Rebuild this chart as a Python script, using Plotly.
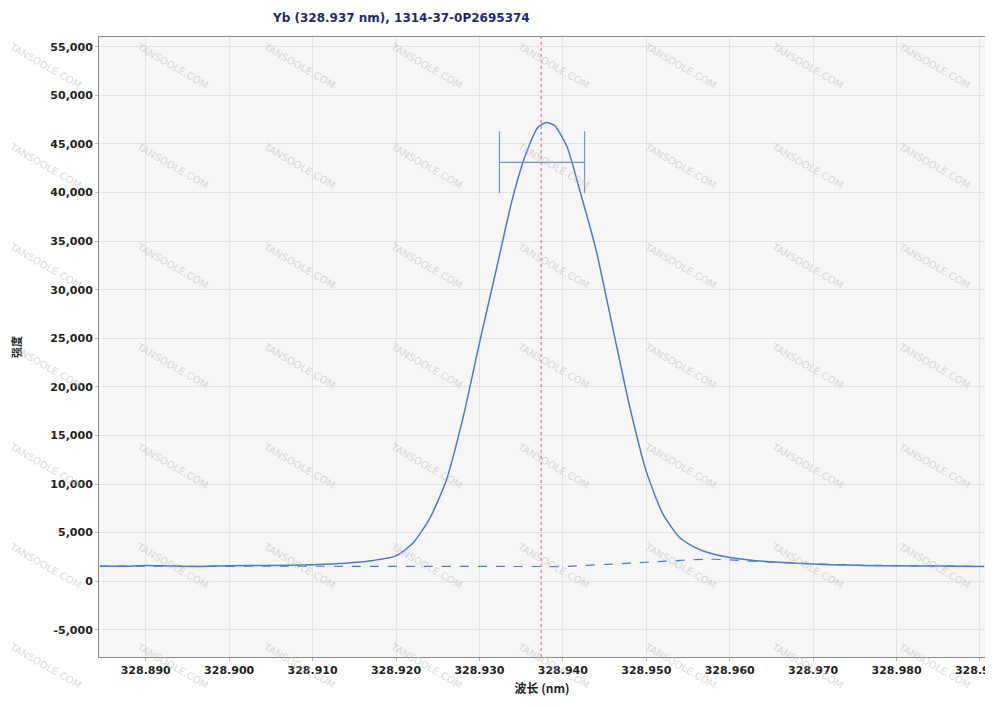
import plotly.graph_objects as go

# ---- data ----
wavelength = [328.8845, 328.888, 328.890, 328.893, 328.896, 328.900, 328.905, 328.910, 328.914,
              328.917, 328.920, 328.922, 328.924, 328.926, 328.928, 328.930, 328.932,
              328.934, 328.9355, 328.937, 328.938, 328.939, 328.9405, 328.942, 328.944,
              328.946, 328.948, 328.950, 328.952, 328.954, 328.956, 328.958, 328.960,
              328.964, 328.968, 328.972, 328.976, 328.980, 328.985, 328.9905]
intensity = [1550, 1550, 1620, 1560, 1520, 1600, 1620, 1700, 1850,
             2100, 2600, 3900, 6400, 10300, 16700, 24500, 32000,
             39500, 43800, 46700, 47200, 46900, 44700, 40300, 34000,
             26000, 18000, 11300, 6900, 4500, 3400, 2800, 2450,
             2050, 1850, 1700, 1620, 1580, 1560, 1520]
baseline = [1550, 1550, 1600, 1560, 1520, 1560, 1550, 1540, 1530,
            1520, 1500, 1500, 1500, 1500, 1500, 1500, 1500,
            1500, 1500, 1500, 1500, 1510, 1530, 1580, 1650,
            1750, 1850, 1950, 2050, 2150, 2230, 2260, 2200,
            2000, 1850, 1720, 1640, 1580, 1560, 1520]

peak_center = [328.9375]
peak_height = [43100]
peak_halfwidth = [0.0051]
marker_line = [328.9374]

y_ticks = [-5000, 0, 5000, 10000, 15000, 20000, 25000, 30000, 35000, 40000, 45000, 50000, 55000]
x_ticks = [328.89, 328.90, 328.91, 328.92, 328.93, 328.94, 328.95, 328.96, 328.97, 328.98, 328.99]
x_labels = ["328.890", "328.900", "328.910", "328.920", "328.930", "328.940",
            "328.950", "328.960", "328.970", "328.980", "328.990"]
y_labels = ["-5,000", "0", "5,000", "10,000", "15,000", "20,000", "25,000",
            "30,000", "35,000", "40,000", "45,000", "50,000", "55,000"]

title_text = "Yb (328.937 nm), 1314-37-0P2695374"
x_title = "波长 (nm)"
y_title = "强度"
watermark = "TANSOOLE.COM"

# page body has an 8px default margin -> figure is drawn offset by (8, 8)
OFF = 8
W, H = 993 - OFF, 706 - OFF
ML, MR, MT, MB = 99 - OFF, 8, 37 - OFF, 49
PW, PH = W - ML - MR, H - MT - MB

BLUE = "#4d79c9"

fig = go.Figure()
fig.add_trace(go.Scatter(x=wavelength, y=baseline, mode="lines",
                         line=dict(color=BLUE, width=1.2, dash="dash"),
                         hoverinfo="skip", showlegend=False))
fig.add_trace(go.Scatter(x=wavelength, y=intensity, mode="lines",
                         line=dict(color=BLUE, width=1.5, shape="spline", smoothing=0.6),
                         showlegend=False))
fig.add_trace(go.Scatter(x=peak_center, y=peak_height, mode="markers",
                         marker=dict(size=1, color="rgba(0,0,0,0)"),
                         error_x=dict(type="data", array=peak_halfwidth, visible=True,
                                      color="#6f93d6", thickness=1.2, width=31),
                         showlegend=False))

fig.add_vline(x=marker_line[0], line=dict(color="#e06060", width=1, dash="dot"))


def px_x(px):
    return (px - OFF - ML) / PW


def px_y(py):
    return (H - MB - (py - OFF)) / PH


# watermarks
annotations = []
for cx in [45, 172, 299, 426, 553, 680, 807, 934]:
    for cy in [65, 165, 265, 365, 465, 565, 665]:
        annotations.append(dict(
            x=px_x(cx), y=px_y(cy), xref="paper", yref="paper",
            xanchor="center", yanchor="middle",
            text=watermark, showarrow=False, textangle=30,
            font=dict(family="DejaVu Sans", size=10, color="rgba(190,190,190,0.6)")))

annotations.append(dict(x=px_x(401), y=px_y(18), xref="paper", yref="paper",
                        xanchor="center", yanchor="middle",
                        text=title_text, showarrow=False,
                        font=dict(family="Tahoma, DejaVu Sans", size=12, color="#1f2a6b", weight="bold")))

fig.update_layout(
    width=W, height=H,
    margin=dict(l=ML, r=MR, t=MT, b=MB, autoexpand=False),
    paper_bgcolor="white",
    plot_bgcolor="#f6f6f6",
    annotations=annotations,
    xaxis=dict(range=[328.8844, 328.9906], tickvals=x_ticks, ticktext=x_labels,
               automargin=False, ticklabeloverflow="allow",
               showgrid=True, gridcolor="#e2e2e2", gridwidth=1, zeroline=False,
               showline=True, linecolor="#8c8c8c", linewidth=1, mirror=True,
               ticks="outside", ticklen=3, tickcolor="#bbbbbb",
               tickfont=dict(family="DejaVu Sans", size=11, color="#222222", weight="bold"),
               title=dict(text=x_title, standoff=8,
                          font=dict(family="Noto Sans CJK SC", size=12, color="#222222", weight="bold"))),
    yaxis=dict(range=[-7800, 56000], tickvals=y_ticks, ticktext=y_labels,
               automargin=False,
               showgrid=True, gridcolor="#e2e2e2", gridwidth=1, zeroline=False,
               showline=True, linecolor="#8c8c8c", linewidth=1, mirror=True,
               ticks="outside", ticklen=3, tickcolor="#bbbbbb",
               tickfont=dict(family="DejaVu Sans", size=11, color="#222222", weight="bold"),
               title=dict(text=y_title, standoff=28,
                          font=dict(family="Noto Sans CJK SC", size=11, color="#222222", weight="bold"))),
)

fig.write_html("out.html")
